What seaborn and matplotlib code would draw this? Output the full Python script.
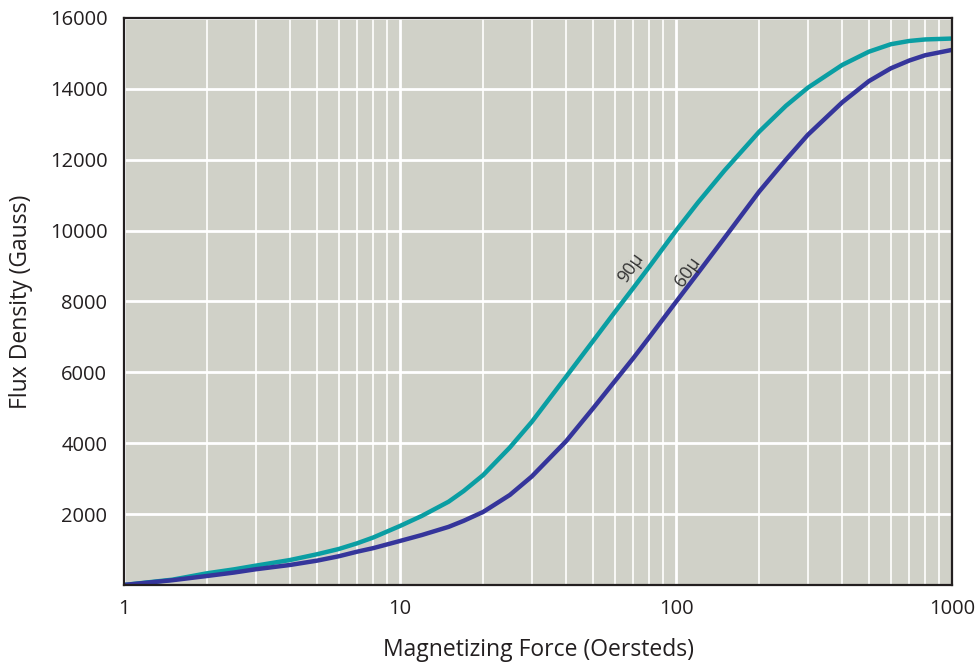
import numpy as np
import pandas as pd
import seaborn as sns
from matplotlib import pyplot as plt
from matplotlib.ticker import LogLocator, FixedLocator, NullFormatter

# Magnetizing force (Oersteds) and flux density (Gauss)
force = [1, 1.5, 2, 2.5, 3, 4, 5, 6, 7, 8, 10, 12, 15, 17, 20, 25, 30, 40, 50, 60, 70, 80,
         100, 120, 150, 200, 250, 300, 400, 500, 600, 700, 800, 1000]
flux_90u = [0, 150, 330, 440, 545, 705, 866, 1015, 1177, 1340, 1665, 1950, 2350, 2650, 3100,
            3880, 4600, 5880, 6880, 7700, 8380, 8980, 10000, 10790, 11700, 12790, 13520,
            14030, 14675, 15050, 15260, 15352, 15395, 15420]
flux_60u = [0, 135, 254, 350, 443, 565, 686, 810, 940, 1040, 1242, 1410, 1640, 1810, 2060,
            2540, 3060, 4060, 4980, 5750, 6400, 6990, 7990, 8800, 9800, 11100, 12000,
            12700, 13620, 14220, 14580, 14800, 14950, 15100]

series_names = ["90\u03bc", "60\u03bc"]
colors = ["#0a9ea3", "#35359b"]
y_ticks = [2000, 4000, 6000, 8000, 10000, 12000, 14000, 16000]
x_ticks = [1, 10, 100, 1000]

df = pd.concat([
    pd.DataFrame({"force": force, "flux": flux_90u, "grade": series_names[0]}),
    pd.DataFrame({"force": force, "flux": flux_60u, "grade": series_names[1]}),
])

sns.set_theme(style="white")
plt.rcParams['font.family'] = ['Open Sans', 'DejaVu Sans']

fig = plt.figure(figsize=(9.8, 6.69), dpi=100)
ax = fig.add_axes([0.1265, 0.1256, 0.845, 0.8475])
ax.set_facecolor("#d0d1c8")

ax.set_xscale("log")
ax.set_xlim(1, 1000)
ax.set_ylim(0, 16000)

# grid first so the curves sit on top
ax.xaxis.set_major_locator(FixedLocator(x_ticks))
ax.xaxis.set_minor_locator(LogLocator(base=10, subs=np.arange(2, 10)))
ax.xaxis.set_minor_formatter(NullFormatter())
ax.set_xticklabels([str(v) for v in x_ticks])
ax.yaxis.set_major_locator(FixedLocator(y_ticks))
ax.set_yticklabels([str(v) for v in y_ticks])
ax.grid(which="major", axis="both", color="white", linewidth=2.0)
ax.grid(which="minor", axis="x", color="white", linewidth=1.2)
ax.set_axisbelow(True)

sns.lineplot(data=df, x="force", y="flux", hue="grade", palette=colors,
             linewidth=3.2, legend=False, ax=ax, sort=False)

for side in ["left", "bottom", "right", "top"]:
    ax.spines[side].set_color("#231f20")
    ax.spines[side].set_linewidth(1.6)

ax.tick_params(axis="y", which="major", direction="in", length=8.5, width=1.6,
               color="#231f20", labelsize=14.5, labelcolor="#231f20", pad=12)
ax.tick_params(axis="x", which="major", direction="in", length=8.5, width=1.6,
               color="#231f20", labelsize=14.5, labelcolor="#231f20", pad=10)
ax.tick_params(axis="x", which="minor", direction="in", length=4.5, width=1.4,
               color="#231f20")

ax.set_xlabel("Magnetizing Force (Oersteds)", fontsize=16.5, color="#231f20", labelpad=14)
ax.set_ylabel("Flux Density (Gauss)", fontsize=16.5, color="#231f20", labelpad=12)

ax.text(68.7, 8950, series_names[0], rotation=55, fontsize=13, color="#333333",
        ha="center", va="center", rotation_mode="anchor")
ax.text(110.5, 8830, series_names[1], rotation=55, fontsize=13, color="#333333",
        ha="center", va="center", rotation_mode="anchor")

fig.savefig("out.png", dpi=100)
